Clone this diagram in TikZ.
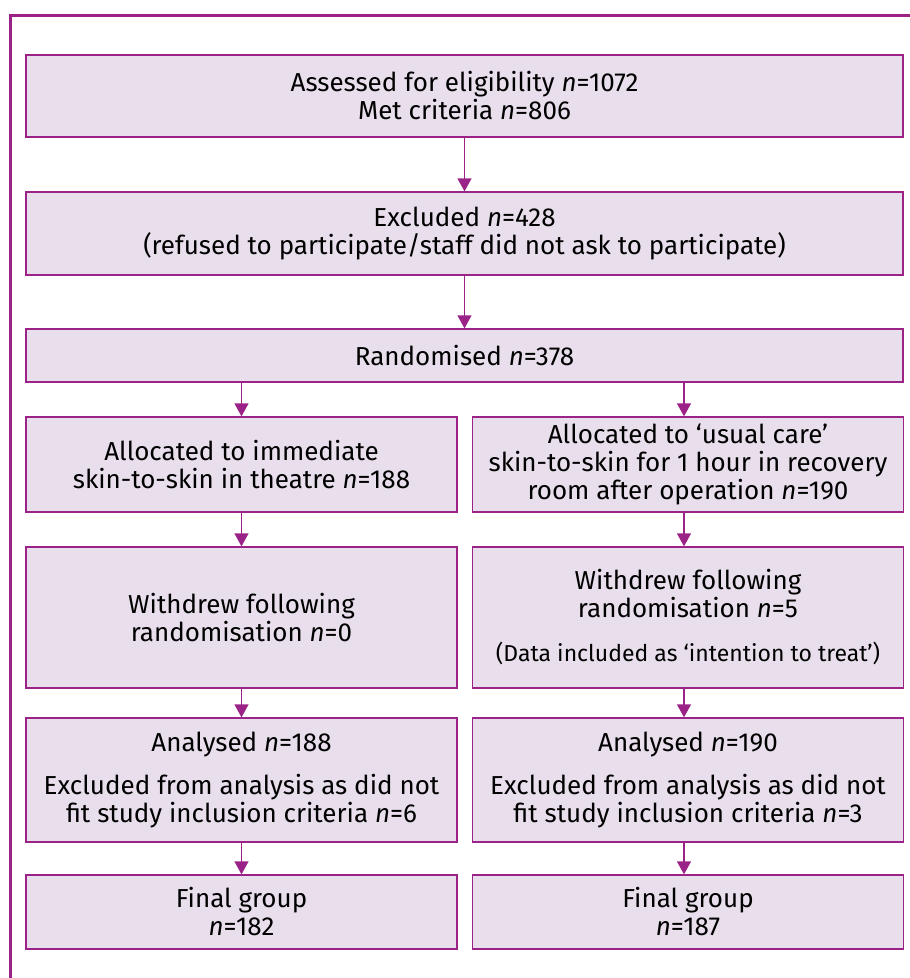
\documentclass[tikz,border=0pt]{standalone}
\usepackage{fontspec}
\setmainfont{Fira Sans}
\usetikzlibrary{arrows.meta,calc}
\definecolor{flowpurple}{RGB}{155,35,135}
\definecolor{flowfill}{RGB}{232,222,236}

\begin{document}
\begin{tikzpicture}[x=1pt,y=-1pt,
                    box/.style={draw=flowpurple,fill=flowfill,line width=1.3pt,align=center,
                                inner sep=0pt,font=\fontsize{26}{28}\selectfont},
                    wide/.style={box,minimum width=877pt},
                    half/.style={box,minimum width=431pt},
                    flow/.style={draw=flowpurple,line width=1.3pt,-{Triangle[width=14pt,length=13pt]}}
                   ]
   \useasboundingbox (0,0) rectangle (910,978);
   % open frame, only top and left edges show
   \draw[flowpurple,line width=3pt] (910,15) -- (10,15) -- (10,978);

   \node[wide,minimum height=82pt] (elig) at (464.5,96) {Assessed for eligibility \textit{n}=1072\\Met criteria \textit{n}=806};
   \node[wide,minimum height=83pt] (excl) at (464.5,233.5) {Excluded \textit{n}=428\\(refused to participate/staff did not ask to participate)};
   \node[wide,minimum height=53pt] (rand) at (464.5,355.5) {Randomised \textit{n}=378};

   \node[half,minimum height=95pt] (allocA) at (241.5,464.5) {Allocated to immediate\\skin-to-skin in theatre \textit{n}=188};
   \node[half,minimum height=95pt] (allocB) at (688,464.5) {Allocated to ‘usual care’\\skin-to-skin for 1 hour in recovery\\room after operation \textit{n}=190};
   \node[half,minimum height=141pt] (withA) at (241.5,617.5) {Withdrew following\\randomisation \textit{n}=0};
   \node[half,minimum height=141pt] (withB) at (688,617.5) {Withdrew following\\randomisation \textit{n}=5\\[16pt]{\fontsize{23}{26}\selectfont(Data included as ‘intention to treat’)}};
   \node[half,minimum height=124pt] (anaA) at (241.5,780) {Analysed \textit{n}=188\\[15pt]Excluded from analysis as did not\\fit study inclusion criteria \textit{n}=6};
   \node[half,minimum height=124pt] (anaB) at (688,780) {Analysed \textit{n}=190\\[15pt]Excluded from analysis as did not\\fit study inclusion criteria \textit{n}=3};
   \node[half,minimum height=74pt] (finA) at (241.5,912) {Final group\\\textit{n}=182};
   \node[half,minimum height=74pt] (finB) at (688,912) {Final group\\\textit{n}=187};

   \path
     (elig) edge[flow] (excl)
     (excl) edge[flow] (rand)
     (rand.south -| allocA.north) edge[flow] (allocA)
     ($(rand.south -| allocB.north)+(-4,0)$) edge[flow] ($(allocB.north)+(-4,0)$)
     (allocA) edge[flow] (withA)
     ($(allocB.south)+(-4,0)$) edge[flow] ($(withB.north)+(-4,0)$)
     (withA) edge[flow] (anaA)
     ($(withB.south)+(-4,0)$) edge[flow] ($(anaB.north)+(-4,0)$)
     (anaA) edge[flow] (finA)
     ($(anaB.south)+(-4,0)$) edge[flow] ($(finB.north)+(-4,0)$);
\end{tikzpicture}
\end{document}
